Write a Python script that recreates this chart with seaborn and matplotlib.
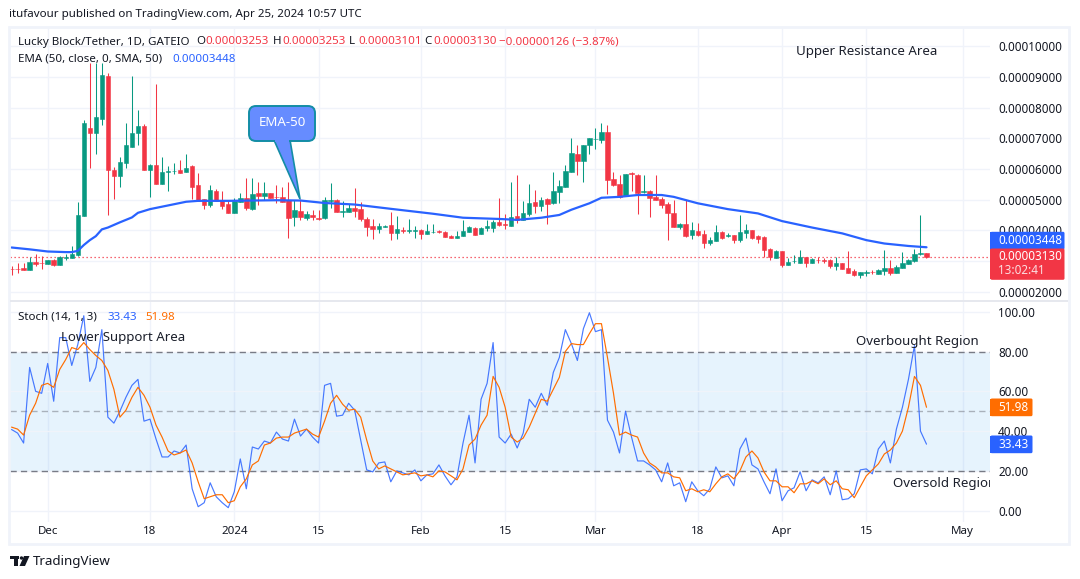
import numpy as np
import pandas as pd
import seaborn as sns
import matplotlib
matplotlib.use("Agg")
import matplotlib.pyplot as plt
from matplotlib.patches import FancyBboxPatch, Polygon, Rectangle, Circle
from matplotlib.transforms import Affine2D

# ---- data (prices in units of 1e-5, first candle is 25 Nov 2023 = day -6) ----
OPEN = [2.75,2.75,2.76,2.70,2.96,2.94,2.90,3.03,2.87,3.10,3.10,3.19,4.47,7.33,7.17,7.62,9.02,5.96,5.77,6.18,6.71,7.17,7.40,5.96,6.12,5.50,5.90,5.92,5.96,5.90,6.09,5.47,5.02,4.82,5.28,4.98,4.85,4.56,4.92,5.05,4.69,5.21,5.11,5.23,5.09,5.08,4.98,4.43,4.63,4.40,4.50,4.40,4.40,4.96,
        4.98,4.60,4.59,4.72,4.69,4.36,4.14,4.04,4.11,4.17,3.91,4.02,3.99,3.99,4.01,3.88,3.94,3.97,3.94,3.81,3.75,3.81,3.94,4.07,3.88,4.07,4.07,4.27,4.20,4.14,4.46,4.33,4.53,4.92,4.79,5.02,4.89,5.24,5.41,5.90,6.48,6.25,6.78,6.97,6.94,7.20,5.67,5.50,5.11,5.86,5.80,5.25,5.28,5.08,5.02,4.85,
        4.56,4.10,4.20,3.84,3.97,3.88,3.58,3.65,3.94,3.83,3.84,3.68,3.91,4.00,3.81,3.78,3.39,3.09,3.32,2.87,2.99,2.93,3.13,2.93,3.04,3.03,3.03,2.83,2.93,2.77,2.67,2.54,2.61,2.65,2.57,2.67,2.77,2.61,2.77,2.90,3.00,3.24,3.253]
HIGH = [2.83,2.92,2.92,3.12,3.22,3.16,3.03,3.05,3.15,3.22,3.48,4.92,7.59,9.44,9.44,9.44,9.13,6.05,6.40,7.49,9.02,7.92,7.46,6.16,8.76,6.38,6.11,6.19,6.29,6.48,6.12,5.86,5.02,5.47,5.34,5.27,4.94,5.04,5.21,5.70,5.70,5.57,5.57,5.23,5.47,5.42,5.57,4.98,5.02,4.63,4.66,4.66,5.08,5.53,
        5.02,4.94,4.85,5.37,4.91,4.42,4.36,4.23,4.17,4.59,4.46,4.10,4.36,4.14,4.04,4.20,4.20,4.01,3.97,3.84,3.97,4.33,4.14,4.10,4.10,4.33,4.33,5.05,4.53,5.57,5.80,4.95,5.50,5.31,5.08,5.05,5.90,5.64,6.12,7.00,6.78,6.78,7.00,7.33,7.49,7.43,5.90,5.80,5.83,5.90,5.83,5.80,5.31,5.80,5.08,4.92,
        4.98,4.23,5.00,4.27,4.23,4.01,3.78,4.17,3.97,3.91,3.84,4.50,4.20,4.01,3.84,3.81,3.42,3.36,3.32,3.09,3.19,3.36,3.13,3.09,3.13,3.09,3.06,3.13,2.93,3.32,2.74,2.64,2.70,2.70,2.74,3.36,3.03,2.87,3.29,3.06,3.39,4.50,3.253]
LOW = [2.54,2.62,2.70,2.70,2.83,2.75,2.90,2.83,2.87,3.03,3.10,3.17,4.47,6.03,6.48,7.43,4.50,5.02,5.42,6.03,6.71,6.78,5.96,5.08,5.50,5.50,5.28,5.85,5.86,5.90,5.02,4.95,4.69,4.77,4.95,4.68,4.56,4.56,4.92,4.66,4.66,4.82,4.98,5.06,4.88,4.92,3.75,4.14,4.33,4.33,4.33,4.33,4.38,4.72,
       4.59,4.44,4.59,4.44,4.30,3.81,3.71,3.91,4.10,3.68,3.71,3.91,3.91,3.75,3.71,3.88,3.91,3.91,3.78,3.75,3.75,3.81,3.94,3.84,3.88,3.98,3.96,4.14,4.04,4.14,4.23,4.33,4.46,4.56,4.63,4.20,4.85,4.89,5.41,5.90,5.80,5.57,6.48,6.64,6.84,5.18,5.44,5.05,5.11,5.27,4.53,5.21,4.43,4.98,4.72,3.68,
       4.10,4.04,3.78,3.71,3.81,3.42,3.52,3.65,3.71,3.78,3.58,3.62,3.75,3.71,3.58,3.13,3.03,3.09,2.80,2.87,2.93,2.93,2.80,2.93,2.93,2.93,2.77,2.70,2.74,2.61,2.51,2.44,2.51,2.57,2.57,2.54,2.54,2.61,2.77,2.90,2.96,3.19,3.101]
CLOSE = [2.73,2.73,2.72,2.96,2.90,2.92,3.03,2.86,3.13,3.12,3.22,4.49,7.49,7.17,7.68,9.05,5.96,5.77,6.22,6.78,7.17,7.40,5.96,6.12,5.50,5.90,5.92,5.94,5.86,6.03,5.41,4.95,4.82,5.31,4.95,4.79,4.56,4.95,5.05,4.72,5.18,5.11,5.21,5.06,5.07,4.92,4.40,4.66,4.43,4.53,4.43,4.38,4.98,4.98,
         4.59,4.62,4.72,4.63,4.36,4.10,4.04,4.14,4.13,3.91,4.04,3.99,4.01,4.01,3.88,3.97,3.96,3.95,3.78,3.75,3.81,3.97,4.10,3.84,4.07,4.14,4.27,4.17,4.18,4.43,4.33,4.56,4.89,4.79,4.98,4.85,5.28,5.44,5.93,6.51,6.25,6.78,7.00,6.99,7.20,5.64,5.47,5.08,5.83,5.84,5.21,5.27,5.05,4.98,4.82,4.56,
         4.10,4.20,3.81,4.01,3.84,3.58,3.68,3.94,3.75,3.85,3.68,3.94,4.01,3.75,3.71,3.36,3.13,3.32,2.87,2.96,3.01,3.13,2.93,3.06,3.02,3.01,2.83,2.93,2.74,2.61,2.54,2.64,2.63,2.63,2.70,2.77,2.61,2.80,2.93,3.03,3.22,3.26,3.13]
EMA_DAYS = [-6,-3,0,3,4,5,6,7,8,9,10,12,14,15,17,20,23,25,30,38,42,46,48,51,57,64,69,75,78,82,85,87,90,92,95,98,102,104,108,113,118,122,127,132,136,139,143,146]
EMA_VALUES = [3.44,3.38,3.31,3.29,3.29,3.33,3.52,3.68,3.81,4.03,4.09,4.26,4.42,4.57,4.69,4.81,4.93,4.96,4.96,4.98,4.97,4.89,4.87,4.84,4.70,4.54,4.41,4.37,4.34,4.41,4.50,4.67,4.88,5.06,5.09,5.15,5.15,5.09,4.88,4.69,4.55,4.30,4.09,3.90,3.68,3.57,3.49,3.448]
STOCH_K = [40.8,39,34,72,60,59,74,55,87,87,73,83.5,98,65,72,91,47,44,50,57,63,66,45,46,36,27,27,30,29,33,11,2,4,14,7,4,1.5,9.5,26,11,32,31,35,34,39.5,36,35,46,37.5,41,37,34,63,64,
           47.5,48,54,50.5,35.5,20.5,19.5,24,24.5,14.5,20,19,18,20.5,15,18,18.5,23,17.5,13,17,34,48,24,56,64,84.5,37,34,38.5,31.5,39,56,52,59,53,69.5,77,91,84,75.5,91.5,99.5,90,91,45.5,39.5,29,50,37,25,25,23,20.5,14.5,24,
           12.5,14,4.5,14.5,10,7.5,11,22,16.5,17.5,12.5,31,36.5,23,21,14.5,8.5,21,5,10,11.5,19.5,10,15.5,14,17,8,20,5.5,6,8.5,20.5,21,18.5,31,35,24,41,52,66,83,40,33.43]
STOCH_D = [42,41,38,48,54,63,64,62,71,76,82,81,84.5,81,78,75.5,70.5,61,47,50.5,57,62,58,52,43,37,30,28,29,30.5,24,14.5,6,7,8,8,4,5,12,16,23,25,33,34,36.5,37,37,39,40,41,38.5,37,45,54,
           58,53.5,50.5,51,47,35.5,25,21,22.5,21,19.5,18,18.5,19,17.5,18,17,20,19.5,17.5,15.5,21,33,36,43,48,67.5,62,52,37,34.5,36.5,42,49,56,55,61,67,80,84,83.5,83.5,89,94,94,77,59,38,39.5,38,37,29,24,22,19,19,
           17,16.5,10,11,9.5,10.5,9.5,13.5,17,18.5,16,20,27,30,26.5,19.5,15,15,12,12,9,13.5,13.5,15,13.5,16,13,15,11,10.5,6.5,12,17.5,20.5,23.5,28.5,30.5,34,40,52,67.5,63,51.98]
PRICE_TICKS = [2, 4, 5, 6, 7, 8, 9, 10]
PRICE_GRID = [2, 3, 4, 5, 6, 7, 8, 9, 10]
STOCH_TICKS = [0, 20, 40, 60, 80, 100]
DATE_DAYS = [0, 17, 31, 45, 62, 76, 91, 108, 122, 136, 152]
DATE_LABELS = ["Dec", "18", "2024", "15", "Feb", "15", "Mar", "18", "Apr", "15", "May"]
LAST_PRICE = 3.13
DAYS = np.arange(-6, 147)

GREEN, RED, BLUE, ORANGE = "#089981", "#F23645", "#2962FF", "#FF6D00"
INK, GRID = "#131722", "#F0F3FA"
W, H = 1080, 579
SCALE = 1e-5
TEXT_SIZE = 8.3
AXIS_SIZE = 8.45
NOTE_SIZE = 9.55

sns.set_theme(style="white")
plt.rcParams["font.family"] = ["Noto Sans", "DejaVu Sans"]

candles = pd.DataFrame({"day": DAYS, "open": OPEN, "high": HIGH, "low": LOW, "close": CLOSE})
stoch = pd.DataFrame({"day": DAYS, "k": STOCH_K, "d": STOCH_D})
ema = pd.DataFrame({"day": EMA_DAYS, "ema": np.array(EMA_VALUES) * SCALE})

fig = plt.figure(figsize=(W / 100, H / 100), dpi=100, facecolor="white")
px = Affine2D().scale(1, -1).translate(0, H)   # pixel positions for page furniture


def box(l, t, r, b):
    return [l / W, 1 - b / H, (r - l) / W, (b - t) / H]


def label(x, y, s, color=INK, size=TEXT_SIZE, **kw):
    kw.setdefault("va", "center")
    return fig.text(x / W, 1 - y / H, s, color=color, fontsize=size, **kw)


ax = fig.add_axes(box(10, 28, 990, 300))
ax2 = fig.add_axes(box(10, 302, 990, 522))
xlim = (-6.26, 156.55)

# ---- price pane ----
for v in PRICE_GRID:
    ax.axhline(v * SCALE, color=GRID, lw=1, zorder=0)
for d in DATE_DAYS:
    ax.axvline(d, color=GRID, lw=1, zorder=0)
    ax2.axvline(d, color=GRID, lw=1, zorder=0)

up = candles.close >= candles.open
colors = np.where(up, GREEN, RED)
ax.vlines(candles.day, candles.low * SCALE, candles.high * SCALE, colors=colors, lw=0.75, zorder=2)
ax.bar(candles.day, (candles.close - candles.open).abs() * SCALE,
       bottom=candles[["open", "close"]].min(axis=1) * SCALE,
       width=0.74, color=colors, edgecolor=colors, linewidth=0.4, zorder=3)
sns.lineplot(data=ema, x="day", y="ema", ax=ax, color=BLUE, lw=1.6, zorder=4, errorbar=None)
ax.axhline(LAST_PRICE * SCALE, color=RED, lw=0.9, ls=(0, (1, 2.2)), zorder=1)
ax.set_xlim(*xlim)
ax.set_ylim(1.73 * SCALE, 10.59 * SCALE)
ax.set_xticks([])
ax.set_xlabel("")
ax.set_ylabel("")
ax.yaxis.tick_right()
ax.set_yticks([v * SCALE for v in PRICE_TICKS], [f"{v * SCALE:.8f}" for v in PRICE_TICKS])
ax.tick_params(axis="y", length=0, pad=5.8, labelsize=AXIS_SIZE, labelcolor=INK)

# ---- stochastic pane ----
ax2.axhspan(20, 80, color="#2196F3", alpha=0.11, lw=0, zorder=0)
for v in STOCH_TICKS:
    ax2.axhline(v, color=GRID, lw=1, zorder=0.5)
ax2.axhline(80, color="#787B86", lw=1, ls=(0, (4.5, 3)), zorder=1)
ax2.axhline(20, color="#787B86", lw=1, ls=(0, (4.5, 3)), zorder=1)
ax2.axhline(50, color="#787B86", lw=1, alpha=0.55, ls=(0, (4.5, 3)), zorder=1)
sns.lineplot(data=stoch, x="day", y="k", ax=ax2, color=BLUE, lw=0.85, alpha=0.85, zorder=3, errorbar=None)
sns.lineplot(data=stoch, x="day", y="d", ax=ax2, color=ORANGE, lw=0.85, zorder=4, errorbar=None)
ax2.set_xlim(*xlim)
ax2.set_ylim(-5.7, 104.9)
ax2.set_xlabel("")
ax2.set_ylabel("")
ax2.yaxis.tick_right()
ax2.set_yticks(STOCH_TICKS, [f"{v:.2f}" for v in STOCH_TICKS])
ax2.tick_params(axis="y", length=0, pad=5.8, labelsize=AXIS_SIZE, labelcolor=INK)
ax2.set_xticks(DATE_DAYS, DATE_LABELS)
ax2.tick_params(axis="x", length=0, pad=3, labelsize=8.3, labelcolor=INK)
for t, s in zip(ax2.get_xticklabels(), DATE_LABELS):
    if s == "2024":
        t.set_fontweight("bold")

for a in (ax, ax2):
    for s in a.spines.values():
        s.set_visible(False)
    a.patch.set_alpha(0)

# ---- page frame ----
fig.add_artist(Rectangle((9, 27), 1060, 517, transform=px, fill=False, ec=GRID, lw=2, zorder=0.5))
fig.add_artist(Rectangle((10, 300.4), 1058, 1.6, transform=px, fc="#E6E8EE", ec="none", zorder=1))

# ---- header and legends ----
label(9, 15, "itufavour published on TradingView.com, Apr 25, 2024 10:57 UTC")
label(18, 42, "Lucky Block/Tether, 1D, GATEIO")
for x, letter, val in [(196, "O", "0.00003253"), (273, "H", "0.00003253"), (349, "L", "0.00003101"), (424, "C", "0.00003130")]:
    label(x, 42, letter)
    label(x + 9, 42, val, color=RED)
label(499, 42, "−0.00000126 (−3.87%)", color=RED)
label(18, 59, "EMA (50, close, 0, SMA, 50)")
label(172, 59, "0.00003448", color=BLUE)
label(18, 317, "Stoch (14, 1, 3)")
label(108, 317, "33.43", color=BLUE)
label(145, 317, "51.98", color=ORANGE)

# ---- drawn annotations ----
label(796, 52, "Upper Resistance Area", size=NOTE_SIZE, color="#1b1f2b")
label(61, 337, "Lower Support Area", size=NOTE_SIZE, color="#1b1f2b")
label(856, 342, "Overbought Region", size=NOTE_SIZE, color="#1b1f2b")
ov = label(893, 484, "Oversold Region", size=NOTE_SIZE, color="#1b1f2b")
ov.set_clip_path(Rectangle((10, 28), 980, 520, transform=px))

CALL_FILL, CALL_EDGE = "#668CFF", "#138DA5"
fig.add_artist(Polygon([(274, 140), (290, 140), (300, 199)], closed=True, transform=px,
                       fc=CALL_FILL, ec=CALL_EDGE, lw=1.2, zorder=5))
fig.add_artist(FancyBboxPatch((254, 111), 56, 25, boxstyle="round,pad=5,rounding_size=7", transform=px,
                              fc=CALL_FILL, ec=CALL_EDGE, lw=1.4, zorder=5))
fig.add_artist(Rectangle((275.2, 136), 14.2, 6, transform=px, fc=CALL_FILL, ec="none", zorder=6))
label(282, 122, "EMA-50", color="white", size=NOTE_SIZE, ha="center", zorder=7)


# ---- axis value tags ----
def tag(t, b, r, color):
    fig.add_artist(FancyBboxPatch((992, t + 1), r - 994, b - t - 2, boxstyle="round,pad=1.5,rounding_size=1.5",
                                  transform=px, fc=color, ec="none", zorder=5))
    fig.add_artist(Rectangle((990, t), 6, b - t, transform=px, fc=color, ec="none", zorder=5))


tag(232.3, 249, 1065, BLUE)
label(998, 240.5, "0.00003448", color="white", size=AXIS_SIZE, fontweight="semibold", zorder=7)
tag(249, 279.3, 1065, RED)
label(998, 257, "0.00003130", color="white", size=AXIS_SIZE, fontweight="semibold", zorder=7)
label(998, 271, "13:02:41", color="#FCDDE0", size=AXIS_SIZE, zorder=7)
tag(399, 415.7, 1033, ORANGE)
label(998, 407.5, "51.98", color="white", size=AXIS_SIZE, fontweight="semibold", zorder=7)
tag(436, 452.7, 1033, BLUE)
label(998, 444.5, "33.43", color="white", size=AXIS_SIZE, fontweight="semibold", zorder=7)

# ---- logo ----
fig.add_artist(Rectangle((10, 556), 9, 3.2, transform=px, fc=INK, ec="none"))
fig.add_artist(Rectangle((14, 556), 4, 10, transform=px, fc=INK, ec="none"))
fig.add_artist(Circle((21.5, 558), 1.7, transform=px, fc=INK, ec="none"))
fig.add_artist(Polygon([(24, 556), (29.5, 556), (25, 566), (19.5, 566)], transform=px, fc=INK, ec="none"))
label(33, 561, "TradingView", size=9.6, color=INK)

fig.savefig("out.png", dpi=100, facecolor="white")
